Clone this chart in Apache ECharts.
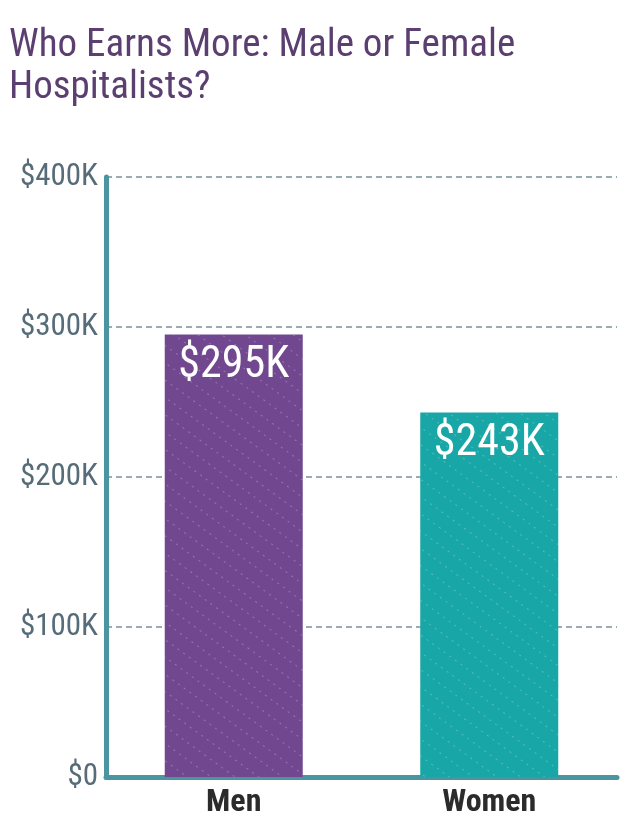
<!DOCTYPE html>
<html>
<head>
<meta charset="utf-8">
<script src="https://cdn.jsdelivr.net/npm/echarts@6/dist/echarts.min.js"></script>
<style>
html,body{margin:0;padding:0;background:#fff;}
#chart{width:640px;height:837px;}
</style>
</head>
<body>
<div id="chart"></div>
<script>
var titleText = "Who Earns More: Male or Female\nHospitalists?";
var categories = ["Men", "Women"];
var values = [295, 243];
var valueLabels = ["$295K", "$243K"];
var barColors = ["#71488f", "#18a6a7"];
var yTicks = [0, 100, 200, 300, 400];

var FONT = '"Roboto Condensed", "Liberation Sans Narrow", "DejaVu Sans Condensed", Roboto, sans-serif';

var chart = echarts.init(document.getElementById('chart'), null, {renderer: 'canvas'});
var decal = {
  symbol: 'rect',
  symbolSize: 1,
  color: 'rgba(255,255,255,0.25)',
  dashArrayX: [[2, 5]],
  dashArrayY: [1, 13],
  rotation: Math.PI / 5
};
chart.setOption({
  animation: false,
  title: {
    text: titleText,
    left: 4,
    top: 20,
    textStyle: {
      fontFamily: FONT,
      fontWeight: 'normal',
      fontSize: 39,
      lineHeight: 42,
      color: '#5b3f70'
    }
  },
  grid: {left: 106, right: 23, top: 177, bottom: 60, containLabel: false},
  xAxis: {
    type: 'category',
    data: categories,
    axisTick: {show: false},
    axisLine: {show: true, lineStyle: {color: '#4a959f', width: 5, cap: 'round'}},
    axisLabel: {
      margin: 10,
      fontFamily: FONT,
      fontWeight: 'bold',
      fontSize: 32,
      color: '#2b2b2b'
    }
  },
  yAxis: {
    type: 'value',
    min: yTicks[0],
    max: yTicks[yTicks.length - 1],
    interval: 100,
    axisTick: {show: false},
    axisLine: {show: true, lineStyle: {color: '#4a959f', width: 5, cap: 'round'}},
    splitLine: {show: true, lineStyle: {color: '#7a9198', width: 1.5, type: [6, 4]}},
    axisLabel: {
      margin: 8,
      fontFamily: FONT,
      fontSize: 31,
      color: '#566c78',
      formatter: function (v) { return v === 0 ? '$0' : '$' + v + 'K'; }
    }
  },
  series: [{
    type: 'bar',
    barWidth: 138,
    data: values.map(function (v, i) {
      return {value: v, itemStyle: {color: barColors[i], decal: decal}};
    }),
    label: {
      show: true,
      position: 'insideTop',
      distance: 9,
      fontFamily: FONT,
      fontSize: 44,
      color: '#ffffff',
      formatter: function (p) { return valueLabels[p.dataIndex]; }
    },
    z: 1
  }]
});
</script>
</body>
</html>
